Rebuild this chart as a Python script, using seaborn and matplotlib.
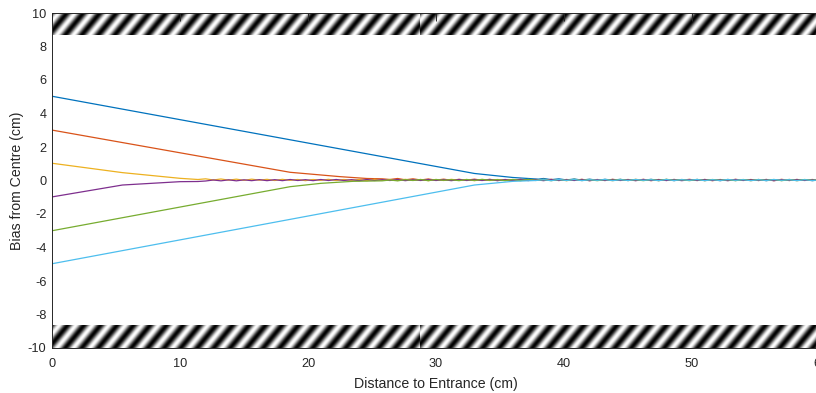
import numpy as np
import pandas as pd
import matplotlib
matplotlib.use("Agg")
import matplotlib.pyplot as plt
import seaborn as sns

# ---- trajectories: lateral bias versus distance travelled ----
series_names = ["s1", "s2", "s3", "s4", "s5", "s6"]
series_colors = ["#0072BD", "#D95319", "#EDB120", "#7E2F8E", "#77AC30", "#4DBEEE"]

# approach phase (key points)
blue_x = [0, 33, 36, 38]
blue_y = [5.03, 0.42, 0.18, 0.08]
orange_x = [0, 18.6, 22.5, 24.6, 25.8]
orange_y = [3.01, 0.49, 0.23, 0.12, 0.10]
yellow_x = [0, 5.5, 10, 11.4]
yellow_y = [1.03, 0.47, 0.13, 0.06]
purple_x = [0, 5.5, 10, 11.4]
purple_y = [-0.98, -0.27, -0.07, -0.06]
green_x = [0, 18.6, 21, 23.5, 25.8]
green_y = [-3.0, -0.37, -0.17, -0.05, -0.02]
lblue_x = [0, 33, 36, 37.8]
lblue_y = [-4.97, -0.27, -0.05, 0.0]

# settled phase, sampled every 0.6 cm from 12 cm to 60 cm
tail_x = np.round(np.arange(12.0, 60.001, 0.6), 2)

yellow_tail = [
    0.10, 0.03, 0.09, 0.02, 0.08, 0.01, 0.08, 0.02, 0.07, 0.00, 0.07, 0.01, 0.06, -0.01, 0.06, 0.01, 0.07, 0.00, 0.06, 0.01,
    0.06, -0.01, 0.07, 0.01, 0.06, 0.00, 0.07, 0.01, 0.06, -0.01, 0.06, 0.00, 0.07, 0.01, 0.06, -0.01, 0.05, 0.00, 0.06, 0.01,
    0.05, -0.01, 0.06, 0.00, 0.07, 0.01, 0.05, -0.01, 0.06, 0.00, 0.06, 0.01, 0.05, -0.01, 0.06, 0.00, 0.07, 0.01, 0.05, -0.01,
    0.06, 0.00, 0.05, 0.01, 0.06, -0.01, 0.05, 0.00, 0.06, 0.01, 0.05, -0.01, 0.06, 0.00, 0.05, 0.01, 0.06, -0.01, 0.05, 0.00, 0.05,
]
purple_tail = [
    -0.03, 0.03, -0.02, 0.04, -0.02, 0.04, -0.01, 0.05, -0.01, 0.05, -0.01, 0.06, 0.00, 0.05, -0.01, 0.06, 0.00, 0.06, 0.00, 0.05,
    -0.01, 0.06, 0.00, 0.05, 0.00, 0.06, -0.01, 0.05, 0.00, 0.06, 0.00, 0.05, -0.01, 0.06, 0.00, 0.05, 0.00, 0.06, -0.01, 0.05,
    0.00, 0.06, 0.00, 0.05, -0.01, 0.06, 0.00, 0.05, 0.00, 0.06, -0.01, 0.05, 0.00, 0.06, 0.00, 0.05, -0.01, 0.06, 0.00, 0.05,
    0.00, 0.06, -0.01, 0.05, 0.00, 0.06, 0.00, 0.05, -0.01, 0.06, 0.00, 0.05, 0.00, 0.06, -0.01, 0.05, 0.00, 0.06, 0.00, 0.05, 0.01,
]
orange_tail = [
    0.06, 0.12, 0.04, 0.10, 0.03, 0.09, 0.02, 0.08, 0.01, 0.07, 0.02, 0.08, 0.01, 0.07, 0.00, 0.06, 0.01, 0.07, 0.00, 0.06,
    0.01, 0.07, 0.00, 0.06, 0.01, 0.07, -0.01, 0.06, 0.00, 0.07, 0.01, 0.06, 0.00, 0.07, -0.01, 0.06, 0.00, 0.06, 0.01, 0.07,
    0.00, 0.06, -0.01, 0.06, 0.00, 0.07, 0.01, 0.06, 0.00, 0.06, -0.01, 0.07, 0.00, 0.06, 0.01, 0.06, 0.00,
]
green_tail = [
    0.03, -0.02, 0.05, 0.00, 0.06, -0.01, 0.06, 0.01, 0.05, -0.01, 0.06, 0.00, 0.07, 0.01, 0.05, -0.01, 0.06, 0.00, 0.06, 0.01,
    0.05, -0.01, 0.06, 0.00, 0.07, 0.00, 0.05, -0.01, 0.06, 0.01, 0.06, 0.00, 0.05, -0.01, 0.06, 0.00, 0.07, 0.01, 0.05, -0.01,
    0.06, 0.00, 0.06, 0.01, 0.05, -0.01, 0.06, 0.00, 0.05, 0.01, 0.06, -0.01, 0.05, 0.00, 0.06, 0.01, 0.05,
]
blue_tail = [
    0.12, 0.05, 0.10, 0.03, 0.09, 0.02, 0.08, 0.01, 0.07, 0.02, 0.07, 0.00, 0.06, 0.01, 0.07, 0.00, 0.06, -0.01, 0.06, 0.01,
    0.06, 0.00, 0.05, -0.01, 0.06, 0.00, 0.05, 0.01, 0.06, -0.01, 0.05, 0.00, 0.06, 0.01, 0.05, -0.01, 0.04,
]
lblue_tail = [
    0.05, -0.01, 0.06, 0.00, 0.06, -0.01, 0.05, 0.01, 0.06, -0.01, 0.05, 0.00, 0.06, 0.01, 0.05, -0.01, 0.06, 0.00, 0.05, 0.01,
    0.06, -0.01, 0.05, 0.00, 0.06, 0.01, 0.05, -0.01, 0.05, 0.00, 0.06, 0.01, 0.05, -0.01, 0.05, 0.00, 0.04,
]

x_ticks = [0, 10, 20, 30, 40, 50, 60]
y_ticks = [-10, -8, -6, -4, -2, 0, 2, 4, 6, 8, 10]

# ---- assemble long-form table ----
def track(name, kx, ky, tail):
    xs = list(kx) + list(tail_x[len(tail_x) - len(tail):])
    ys = list(ky) + list(tail)
    return pd.DataFrame({"x": xs, "y": ys, "series": name})

df = pd.concat([
    track("s1", blue_x, blue_y, blue_tail),
    track("s2", orange_x, orange_y, orange_tail),
    track("s3", yellow_x, yellow_y, yellow_tail),
    track("s4", purple_x, purple_y, purple_tail),
    track("s5", green_x, green_y, green_tail),
    track("s6", lblue_x, lblue_y, lblue_tail),
], ignore_index=True)

# ---- figure ----
sns.set_theme(style="white")
plt.rcParams["font.family"] = ["Liberation Sans", "DejaVu Sans"]
plt.rcParams["axes.unicode_minus"] = False

axis_col = (0.15, 0.15, 0.15)
fig = plt.figure(figsize=(8.16, 3.93), dpi=100)
ax = fig.add_axes([52 / 816, 45 / 393, 768 / 816, 335 / 393])

# striped walls of the corridor
px_x, px_y = 12.8, 16.75
period, slant, offset = 16.5, 0.85, 5.0
wall = 1.33

def wall_image(x0, x1, y0, y1):
    nx = int((x1 - x0) * px_x * 4)
    ny = int((y1 - y0) * px_y * 4)
    xs = (np.arange(nx) + 0.5) / nx * (x1 - x0) * px_x
    hs = (np.arange(ny) + 0.5) / ny * (y1 - y0) * px_y
    X, H = np.meshgrid(xs, hs)
    return 0.5 + 0.5 * np.cos(2 * np.pi * (X - slant * H - offset) / period)

tile = 28.75
for (tx0, tx1) in ((0.0, tile), (tile, 61.0)):
    for (y0, y1) in ((10 - wall, 10), (-10, -10 + wall)):
        img = wall_image(tx0, tx1, y0, y1)
        ax.imshow(img, extent=[tx0, tx1, y0, y1], origin="lower", aspect="auto",
                  cmap="gray", vmin=0, vmax=1, interpolation="bilinear", zorder=0)

sns.lineplot(data=df, x="x", y="y", hue="series", hue_order=series_names,
             palette=series_colors, estimator=None, sort=False, legend=False,
             linewidth=0.9, ax=ax)

ax.set_xlim(0, 60)
ax.set_ylim(-10, 10)
ax.set_xticks(x_ticks)
ax.set_yticks(y_ticks)
ax.set_xticklabels([str(v) for v in x_ticks])
ax.set_yticklabels([str(v) for v in y_ticks])
ax.tick_params(direction="in", length=5.5, width=0.7, colors=axis_col,
               labelsize=9.2, top=True, right=False)
ax.tick_params(axis="x", pad=7)
ax.tick_params(axis="y", pad=4)
for s in ax.spines.values():
    s.set_color(axis_col)
    s.set_linewidth(0.7)

ax.set_xlabel("Distance to Entrance (cm)", fontsize=10.2, color=axis_col, labelpad=5)
ax.set_ylabel("Bias from Centre (cm)", fontsize=10.2, color=axis_col, labelpad=3)

fig.savefig("out.png", dpi=100)
